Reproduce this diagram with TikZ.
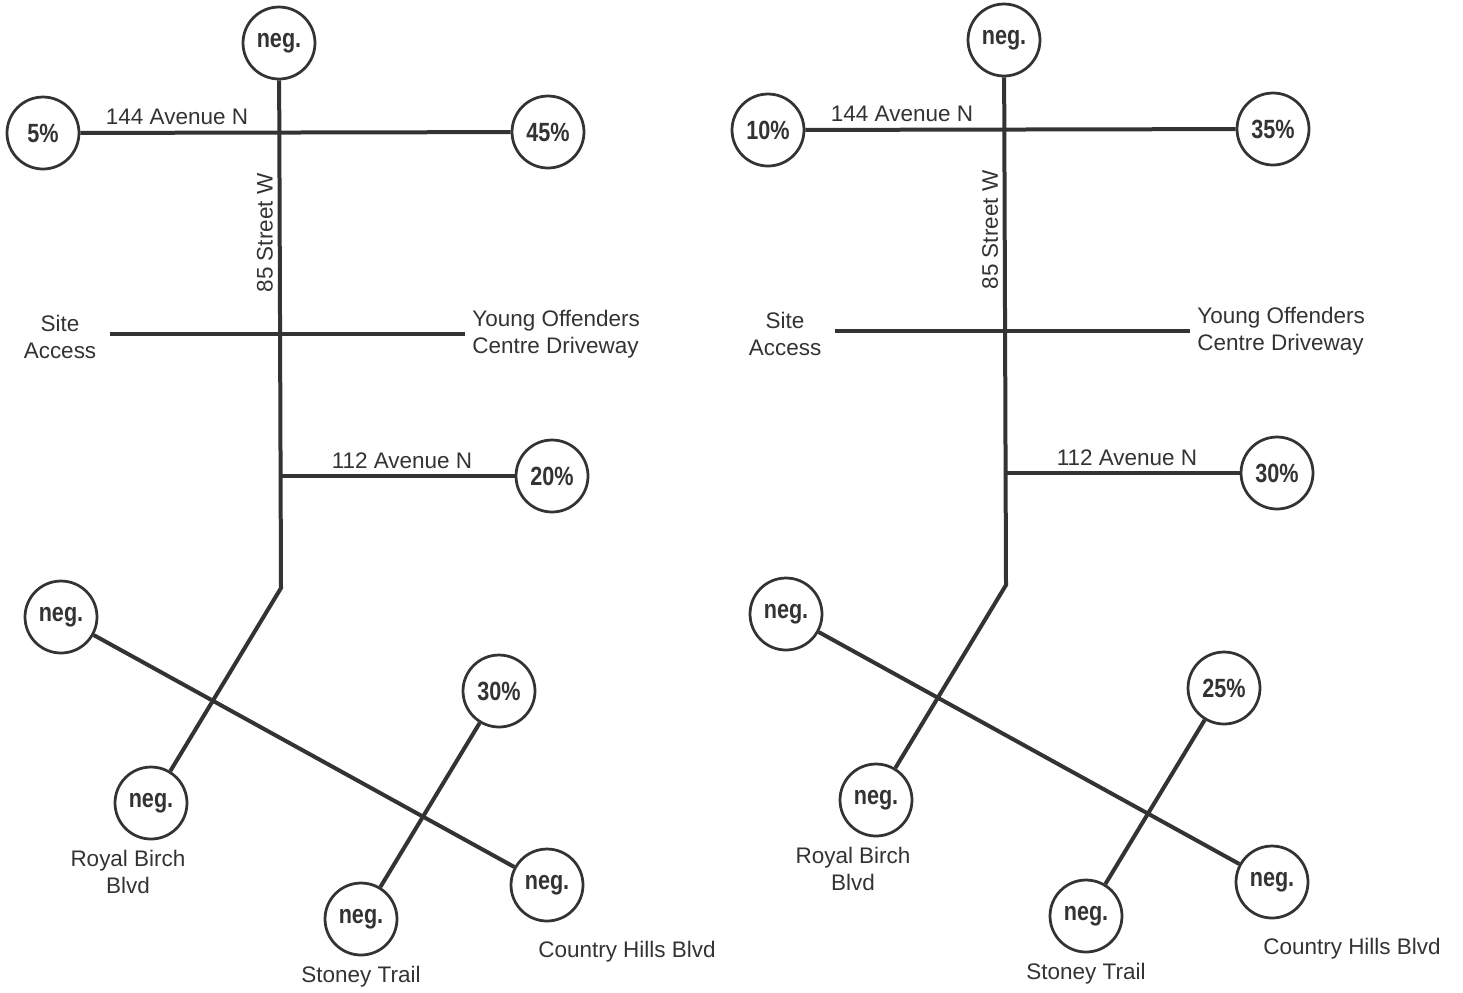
\documentclass[tikz,border=0pt]{standalone}
\usepackage{fontspec}
\setmainfont{Liberation Sans}
\newfontfamily\pctfont[FakeStretch=0.82]{Liberation Sans}
\usetikzlibrary{positioning}

\definecolor{ink}{gray}{0.2}

\begin{document}
\begin{tikzpicture}[x=0.02cm, y=-0.02cm,
    road/.style={draw=ink, line width=0.08cm},
    pct/.style={circle, draw=ink, line width=0.055cm, minimum size=1.44cm,
      inner sep=0pt, text=ink, font=\pctfont\bfseries\fontsize{15}{17}\selectfont},
    lbl/.style={text=ink, inner sep=0pt, align=center,
      font=\fontsize{12.8}{15.3}\selectfont}]

  % 画布 (像素坐标)
  \useasboundingbox (0,0) rectangle (1463,992);

  % 两个分配方案: 平移 / 西 / 东 / 112 Ave / 东北
  \foreach \dx/\dy/\pa/\pb/\pc/\pd in {0/0/5/45/20/30, 725/-3/10/35/30/25} {
    \begin{scope}[shift={(\dx,\dy)}]

      % 1. 百分比圆圈
      \node[pct] (top)  at (279,43)  {neg.};
      \node[pct] (west) at (43,133)  {\pa\%};
      \node[pct] (east) at (548,132) {\pb\%};
      \node[pct] (mid)  at (552,476) {\pc\%};
      \node[pct] (nw)   at (61,617)  {neg.};
      \node[pct] (rb)   at (151,803) {neg.};
      \node[pct] (ne)   at (499,691) {\pd\%};
      \node[pct] (st)   at (361,919) {neg.};
      \node[pct] (ch)   at (547,885) {neg.};

      % 2. 道路
      \coordinate (bend) at (281,588);
      \coordinate (j112) at (281,476);
      \coordinate (saw)  at (110,334);
      \coordinate (sae)  at (465,334);

      \draw[road] (top) -- (bend) -- (rb);
      \draw[road] (west) -- (east);
      \draw[road] (saw) -- (sae);
      \draw[road] (j112) -- (mid);
      \draw[road] (nw) -- (ch);
      \draw[road] (ne) -- (st);

      % 3. 路名
      \node[lbl] (l144) at (177,117) {144 Avenue N};
      \node[lbl, rotate=90] (l85) at (265,233) {85 Street W};
      \node[lbl] (lsite) at (60,337) {Site\\Access};
      \node[lbl, anchor=west, align=left] (lyoc) at (472,334) {Young Offenders\\Centre Driveway};
      \node[lbl] (l112) at (402,461) {112 Avenue N};
      \node[lbl] (lrb) at (128,872) {Royal Birch\\Blvd};
      \node[lbl] (lst) at (361,977) {Stoney Trail};
      \node[lbl] (lch) at (627,952) {Country Hills Blvd};

    \end{scope}
  }

\end{tikzpicture}
\end{document}
